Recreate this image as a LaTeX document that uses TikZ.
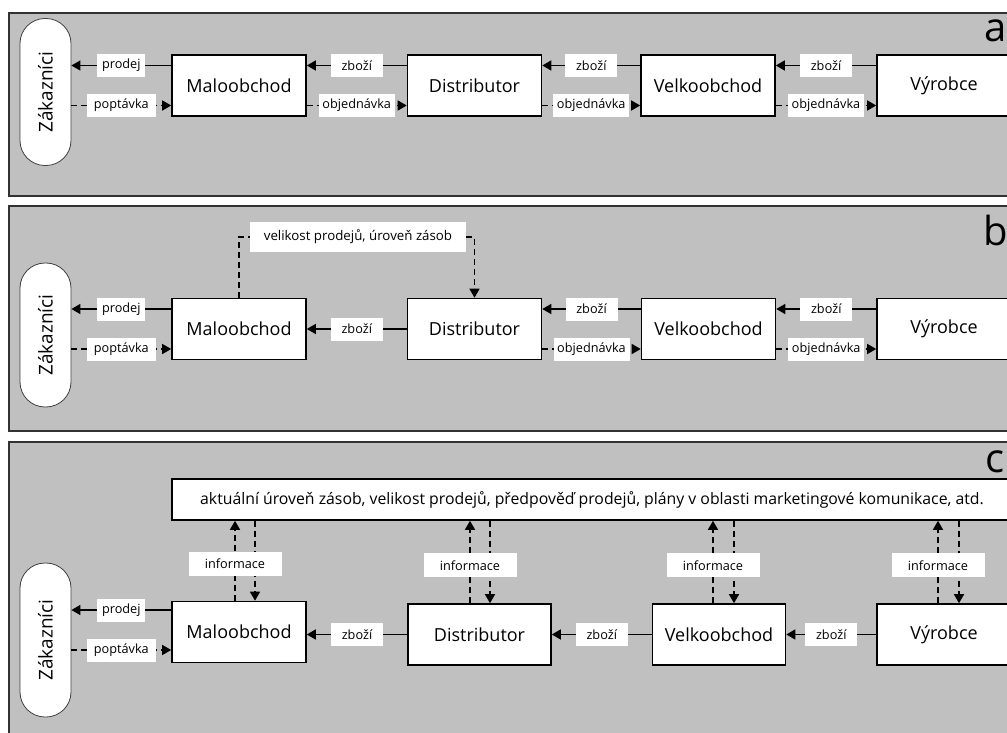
\documentclass[tikz,border=0pt]{standalone}
\usepackage{fontspec}
\usepackage{graphicx}
\setmainfont{Open Sans}
\usetikzlibrary{arrows.meta,calc}
\definecolor{panelgray}{RGB}{192,192,192}
\definecolor{panelborder}{RGB}{50,50,50}
\tikzset{
  panel/.style={fill=panelgray, draw=panelborder, line width=2pt},
  ent/.style={draw=black, fill=white, line width=1.6pt, minimum width=134pt, minimum height=61pt, inner sep=0pt, font=\fontsize{18}{21}\selectfont},
  cust/.style={draw=black!75, fill=white, line width=0.8pt, rounded corners=25pt, minimum width=51pt, inner sep=0pt, font=\fontsize{19}{22}\selectfont},
  lbl/.style={fill=white, inner xsep=3pt, inner ysep=0pt, minimum height=23pt, font=\fontsize{12.7}{15}\selectfont},
  lprodej/.style={lbl, minimum width=48pt},
  lpopt/.style={lbl, minimum width=69pt},
  lzbozi/.style={lbl, minimum width=52pt},
  lobj/.style={lbl, minimum width=76pt},
  linfo/.style={lbl, minimum width=93pt, minimum height=24pt},
  infobox/.style={draw=black, fill=white, line width=1.6pt, minimum width=840pt, minimum height=41pt, inner sep=0pt, font=\fontsize{15.8}{18}\selectfont},
  panelletter/.style={anchor=base west, inner sep=0pt, font=\fontsize{40}{40}\selectfont},
  arr/.style={line width=1.5pt, -{Triangle[length=9pt,width=10pt]}},
  darr/.style={arr, dash pattern=on 6pt off 4pt},
  dline/.style={line width=1.5pt, dash pattern=on 6pt off 4pt},
}
\begin{document}
\begin{tikzpicture}[x=1pt,y=-1pt]
\useasboundingbox (0,0) rectangle (1007,733);
\clip (0,0) rectangle (1007,733);
\fill[white] (-5,-5) rectangle (1012,740);
% panels
\draw[panel] (9,13) rectangle (1040,196);
\draw[panel] (9,206) rectangle (1040,431);
\draw[panel] (9,442) rectangle (1040,770);
\node[panelletter] (la) at (984,42) {a};
\node[panelletter] (lb) at (983,245) {b};
\node[panelletter] (lc) at (985,472) {c};

% ===== panel a =====
\node[cust, minimum height=147pt] (za) at (45.5,92) {\rotatebox{90}{Zákazníci}};
\node[ent] (ma) at (239,85.5) {Maloobchod};
\node[ent] (da) at (474.5,85.5) {Distributor};
\node[ent] (va) at (708,85.5) {Velkoobchod};
\node[ent] (ya) at (944,85.5) {Výrobce};
\draw[arr] ([yshift=20pt]ma.west) -- ([yshift=20pt]ma.west -| za.east) node[lprodej,midway] (pa1) {prodej};
\draw[darr] ([yshift=-20pt]ma.west -| za.east) -- ([yshift=-20pt]ma.west) node[lpopt,midway] (pa2) {poptávka};
\draw[arr] ([yshift=20pt]da.west) -- ([yshift=20pt]ma.east) node[lzbozi,midway] (za1) {zboží};
\draw[darr] ([yshift=-20pt]ma.east) -- ([yshift=-20pt]da.west) node[lobj,midway] (oa1) {objednávka};
\draw[arr] ([yshift=20pt]va.west) -- ([yshift=20pt]da.east) node[lzbozi,midway] (za2) {zboží};
\draw[darr] ([yshift=-20pt]da.east) -- ([yshift=-20pt]va.west) node[lobj,midway] (oa2) {objednávka};
\draw[arr] ([yshift=20pt]ya.west) -- ([yshift=20pt]va.east) node[lzbozi,midway] (za3) {zboží};
\draw[darr] ([yshift=-20pt]va.east) -- ([yshift=-20pt]ya.west) node[lobj,midway] (oa3) {objednávka};

% ===== panel b =====
\node[cust, minimum height=144pt] (zb) at (45.5,335) {\rotatebox{90}{Zákazníci}};
\node[ent] (mb) at (239,329) {Maloobchod};
\node[ent] (db) at (474.5,329) {Distributor};
\node[ent] (vb) at (708.5,329) {Velkoobchod};
\node[ent] (yb) at (944,329) {Výrobce};
\node[lbl, minimum width=216pt, minimum height=30pt, font=\fontsize{13.3}{16}\selectfont] (ib) at (358,237) {velikost prodejů, úroveň zásob};
\draw[dline] (mb.north) |- (ib.west);
\draw[darr] (ib.east) -| (db.north);
\draw[arr] ([yshift=20pt]mb.west) -- ([yshift=20pt]mb.west -| zb.east) node[lprodej,midway] (pb1) {prodej};
\draw[darr] ([yshift=-20pt]mb.west -| zb.east) -- ([yshift=-20pt]mb.west) node[lpopt,midway] (pb2) {poptávka};
\draw[arr] (db.west) -- (mb.east) node[lzbozi,midway] (zb1) {zboží};
\draw[arr] ([yshift=20pt]vb.west) -- ([yshift=20pt]db.east) node[lzbozi,midway] (zb2) {zboží};
\draw[darr] ([yshift=-20pt]db.east) -- ([yshift=-20pt]vb.west) node[lobj,midway] (ob2) {objednávka};
\draw[arr] ([yshift=20pt]yb.west) -- ([yshift=20pt]vb.east) node[lzbozi,midway] (zb3) {zboží};
\draw[darr] ([yshift=-20pt]vb.east) -- ([yshift=-20pt]yb.west) node[lobj,midway] (ob3) {objednávka};

% ===== panel c =====
\node[cust, minimum height=154pt] (zc) at (45.5,640) {\rotatebox{90}{Zákazníci}};
\node[ent] (mc) at (239,632) {Maloobchod};
\node[ent, minimum width=143pt] (dc) at (479.5,634.5) {Distributor};
\node[ent, minimum width=133pt] (vc) at (719,634.5) {Velkoobchod};
\node[ent] (yc) at (944,634.5) {Výrobce};
\node[infobox] (ic) at (592,499.5) {aktuální úroveň zásob, velikost prodejů, předpověď prodejů, plány v oblasti marketingové komunikace, atd.};
\draw[arr] ([yshift=22pt]mc.west) -- ([yshift=22pt]mc.west -| zc.east) node[lprodej,midway] (pc1) {prodej};
\draw[darr] ([yshift=-18pt]mc.west -| zc.east) -- ([yshift=-18pt]mc.west) node[lpopt,midway] (pc2) {poptávka};
\draw[arr] (dc.west) -- (dc.west -| mc.east) node[lzbozi,midway] (zc1) {zboží};
\draw[arr] (vc.west) -- (dc.east) node[lzbozi,midway] (zc2) {zboží};
\draw[arr] (yc.west) -- (vc.east) node[lzbozi,midway] (zc3) {zboží};
% information arrows
\draw[darr] ([xshift=16pt]mc.north |- ic.south) -- ([xshift=16pt]mc.north);
\draw[darr] ([xshift=-4pt]mc.north) -- ([xshift=-4pt]mc.north |- ic.south) node[linfo,pos=0.46] (ic1) {informace};
\draw[darr] ([xshift=10.5pt]dc.north |- ic.south) -- ([xshift=10.5pt]dc.north);
\draw[darr] ([xshift=-9.5pt]dc.north) -- ([xshift=-9.5pt]dc.north |- ic.south) node[linfo,pos=0.46] (ic2) {informace};
\draw[darr] ([xshift=15pt]vc.north |- ic.south) -- ([xshift=15pt]vc.north);
\draw[darr] ([xshift=-6pt]vc.north) -- ([xshift=-6pt]vc.north |- ic.south) node[linfo,pos=0.46] (ic3) {informace};
\draw[darr] ([xshift=15pt]yc.north |- ic.south) -- ([xshift=15pt]yc.north);
\draw[darr] ([xshift=-6pt]yc.north) -- ([xshift=-6pt]yc.north |- ic.south) node[linfo,pos=0.46] (ic4) {informace};
\end{tikzpicture}
\end{document}
